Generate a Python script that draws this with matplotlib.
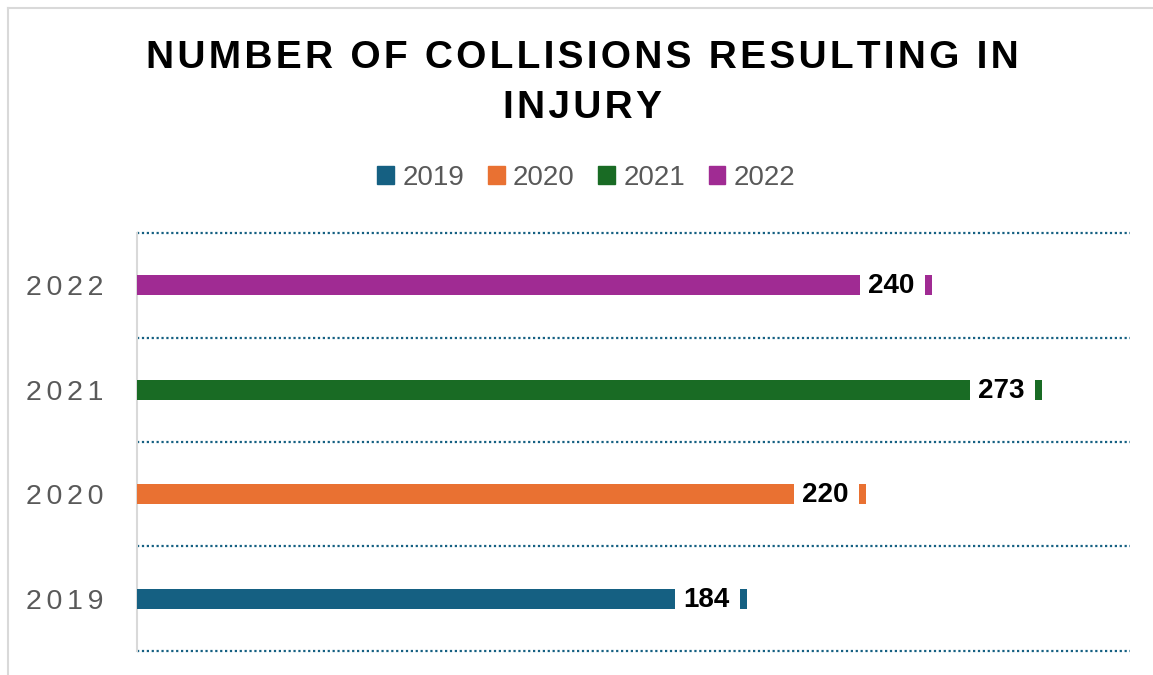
import matplotlib
matplotlib.use("Agg")
import matplotlib.pyplot as plt
from matplotlib.transforms import ScaledTranslation
from matplotlib.lines import Line2D

years = ["2019", "2020", "2021", "2022"]
collisions = [184, 220, 273, 240]
colors = ["#156082", "#E97132", "#196B24", "#A02B93"]
title = "NUMBER OF COLLISIONS RESULTING IN\nINJURY"

FAM = ["Liberation Sans", "DejaVu Sans"]
HAIR = "\u200a"


def spaced(s, n=1):
    return "\n".join((HAIR * n).join(line) for line in s.split("\n"))


plt.rcParams["font.family"] = FAM

fig = plt.figure(figsize=(11.53, 6.75), dpi=100)
ax = fig.add_axes([0.1188, 0.0356, 0.8612, 0.6192])

ypos = list(range(len(years)))
for i, (yr, v, c) in enumerate(zip(years, collisions, colors)):
    ax.barh(i, v, height=0.19, color=c, label=yr, zorder=3)
    ax.text(v, i, str(v), transform=ax.transData + ScaledTranslation(8 / 100, -1 / 100, fig.dpi_scale_trans),
            ha="left", va="center", fontsize=20, fontweight="bold", color="black")
    # legend-key sliver after the label
    ax.barh(i, 2.1, height=0.19, left=v, color=c, zorder=3,
            transform=ax.transData + ScaledTranslation(65 / 100, 0, fig.dpi_scale_trans))

ax.set_xlim(21.7, 321.3)
ax.set_ylim(-0.5, 3.5)
ax.set_yticks(ypos)
ax.set_yticklabels([spaced(y, 2) for y in years], fontsize=20.5, color="#595959")
ax.tick_params(axis="y", length=0, pad=24)
ax.set_xticks([])
for yb in [-0.5, 0.5, 1.5, 2.5, 3.5]:
    ax.axhline(yb, color="#156082", lw=1.6, ls=(0, (1, 1.2)), zorder=1, clip_on=False)
for s in ["top", "right", "bottom"]:
    ax.spines[s].set_visible(False)
ax.spines["left"].set_color("#D9D9D9")
ax.spines["left"].set_linewidth(1.5)

fig.text(0.5055, 0.94, spaced(title, 1), ha="center", va="top", fontsize=28,
         fontweight="bold", color="black", linespacing=1.5)

handles = [plt.Rectangle((0, 0), 1, 1, color=c) for c in colors]
fig.legend(handles, years, loc="center", bbox_to_anchor=(0.5085, 0.737), ncol=4,
           frameon=False, fontsize=20, handlelength=0.6, handleheight=0.6,
           handletextpad=0.3, columnspacing=0.85, labelcolor="#595959")

# chart border
fig.add_artist(Line2D([8 / 1153, 8 / 1153], [0, 1 - 8 / 675], color="#D9D9D9", lw=1.5))
fig.add_artist(Line2D([8 / 1153, 1], [1 - 8 / 675, 1 - 8 / 675], color="#D9D9D9", lw=1.5))

fig.savefig("out.png", dpi=100, facecolor="white")
